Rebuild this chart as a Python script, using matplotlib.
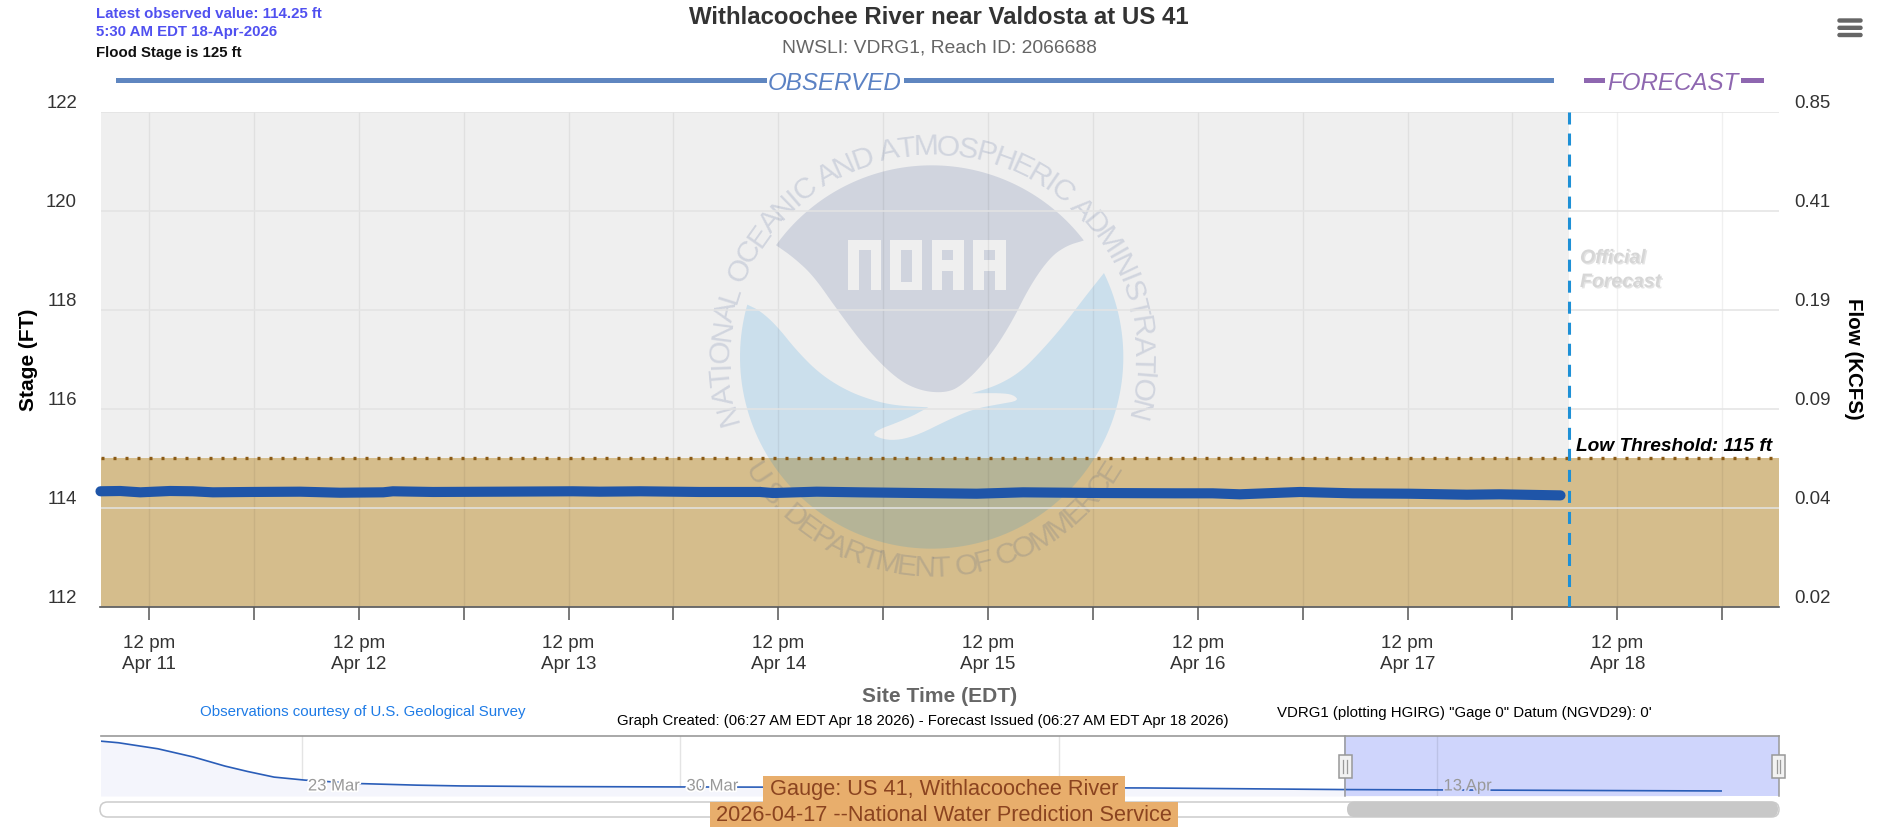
import numpy as np
import matplotlib
matplotlib.use("Agg")
import matplotlib.pyplot as plt
from matplotlib.patches import Polygon, Rectangle, FancyBboxPatch
from matplotlib.textpath import TextPath
from matplotlib.font_manager import FontProperties
from matplotlib.transforms import ScaledTranslation
import matplotlib.patheffects as pe

plt.rcParams['font.family'] = ['Liberation Sans', 'DejaVu Sans']

# ---------- data ----------
obs_hours = [-5.55, -3.3, -1.0, 2.4, 5.0, 7.3, 11.55, 17.3, 21.85, 26.8, 27.9, 32.5, 40.15,
             48.5, 51.6, 56.2, 63.0, 69.9, 71.4, 76.4, 81.3, 87.85, 94.7, 100.0, 108.8,
             117.6, 121.7, 124.8, 131.7, 137.7, 144.2, 150.8, 154.5, 161.5]
obs_stage = [114.333, 114.339, 114.312, 114.339, 114.333, 114.312, 114.319, 114.325, 114.304,
             114.312, 114.333, 114.319, 114.325, 114.333, 114.325, 114.333, 114.319, 114.319,
             114.298, 114.325, 114.312, 114.298, 114.284, 114.312, 114.298, 114.292, 114.292,
             114.272, 114.319, 114.292, 114.284, 114.264, 114.272, 114.25]
forecast_issued_hour = 162.45
x_min_hour, x_max_hour = -5.55, 186.5
stage_ticks = [112, 114, 116, 118, 120, 122]
flow_labels = ['0.02', '0.04', '0.09', '0.19', '0.41', '0.85']
low_threshold = 115
tick_hours = list(range(0, 181, 12))
day_labels = ['Apr 11', 'Apr 12', 'Apr 13', 'Apr 14', 'Apr 15', 'Apr 16', 'Apr 17', 'Apr 18']

nav_days = [-3.72, -3.39, -2.66, -2.0, -1.42, -1.0, -0.51, 0.06, 1.05, 2.13, 2.96, 4.6, 7.08, 15.6, 19.28, 26.25]
nav_stage = [116.73, 116.65, 116.35, 115.94, 115.49, 115.22, 114.94, 114.79, 114.62, 114.54, 114.5, 114.47,
             114.45, 114.4, 114.32, 114.25]
nav_tick_days = [0, 7, 14, 21]
nav_labels = ['23 Mar', '30 Mar', '', '13 Apr']
nav_range = (-3.72, 27.32)
nav_sel = (19.28, 27.32)

W, H = 1887, 828
fig = plt.figure(figsize=(W / 100, H / 100), dpi=100, facecolor='white')

def axes_px(x0, y0, x1, y1, **kw):
    return fig.add_axes([x0 / W, 1 - y1 / H, (x1 - x0) / W, (y1 - y0) / H], **kw)

# overlay in pixel coordinates for page furniture
ov = fig.add_axes([0, 0, 1, 1], zorder=5)
ov.set_xlim(0, W); ov.set_ylim(H, 0); ov.axis('off'); ov.patch.set_alpha(0)

# ---------- main chart ----------
L, R, T, B = 100.5, 1779, 113, 607.7
ax = axes_px(L, T, R, B, zorder=2)
ax.set_xlim(x_min_hour, x_max_hour)
ax.set_ylim(112, 122)
ax.set_facecolor('white')
ax.axvspan(x_min_hour, forecast_issued_hour, color='#EFEFEF', lw=0, zorder=0.5)
ax.axhspan(112, low_threshold, color='#D5BD8C', lw=0, zorder=1)

for s in ['top', 'left', 'right']:
    ax.spines[s].set_visible(False)
ax.spines['bottom'].set_color('#555555'); ax.spines['bottom'].set_linewidth(1.2)

ax.set_xticks(tick_hours)
labels = []
for i, _ in enumerate(tick_hours):
    labels.append('12 pm\n' + day_labels[i // 2] if i % 2 == 0 else '')
ax.set_xticklabels(labels, fontsize=13.6, color='#333333', linespacing=1.27)
ax.tick_params(axis='x', length=9.4, width=1.1, color='#555555', pad=10.5)
ax.set_yticks(stage_ticks)
ax.set_yticklabels([str(v) for v in stage_ticks], fontsize=13.4, color='#333333')
ax.tick_params(axis='y', length=0, pad=17)
ax.grid(axis='y', color='#E3E3E3', lw=1.1, zorder=1.5)
ax.grid(axis='x', color='#000000', alpha=0.06, lw=1.0, zorder=1.5)
ax.set_axisbelow('line')
off = ScaledTranslation(0, 11 / 100, fig.dpi_scale_trans)
for t in ax.get_yticklabels():
    t.set_transform(t.get_transform() + off)

ax2 = ax.twinx()
ax2.set_ylim(112, 122)
ax2.set_yticks(stage_ticks)
ax2.set_yticklabels(flow_labels, fontsize=13.4, color='#333333')
ax2.tick_params(axis='y', length=0, pad=10.8)
for s in ax2.spines.values():
    s.set_visible(False)
for t in ax2.get_yticklabels():
    t.set_transform(t.get_transform() + off)

ax.axhline(low_threshold, color='#8A5A16', lw=2.4, ls=(0, (0.9, 2.7)), zorder=1.8)
ax.plot(obs_hours, obs_stage, color='#1F55A8', lw=7.3, solid_capstyle='round', solid_joinstyle='round',
        zorder=3, clip_on=False)
ax.plot([forecast_issued_hour] * 2, [122, 112], color='#1E90D6', lw=2.2,
        ls=(0, (3.93, 2.95)), dash_capstyle='butt', zorder=3.5)

# ---------- NOAA seal ----------
cx, cy, cr = 755, 684, 575   # in 3x crop units around (680, 130)
def sx(a): return 680 + np.asarray(a, float) / 3
def sy(a): return 130 + np.asarray(a, float) / 3
def chaikin(p, n=3):
    p = np.asarray(p, float)
    for _ in range(n):
        q = [p[0]]
        for a, b in zip(p[:-1], p[1:]):
            q += [0.75 * a + 0.25 * b, 0.25 * a + 0.75 * b]
        q.append(p[-1])
        p = np.array(q)
    return p
def arc(p0, p1, bottom):
    a0 = np.arctan2(p0[1] - cy, p0[0] - cx); a1 = np.arctan2(p1[1] - cy, p1[0] - cx)
    if bottom:       # left point to right point, via the bottom of the circle (y grows down)
        if a0 < 0: a0 += 2 * np.pi
    else:
        if a0 > 0: a0 -= 2 * np.pi
        if a1 > 0: a1 -= 2 * np.pi
    t = np.linspace(a0, a1, 120)
    return np.c_[cx + cr * np.cos(t), cy + cr * np.sin(t)]

dark_low = [(290, 350), (340, 385), (400, 440), (470, 540), (560, 660), (650, 750), (720, 785), (790, 792),
            (840, 775), (920, 695), (990, 590), (1050, 470), (1110, 385), (1160, 350), (1210, 335)]
blue_up = [(1272, 432), (1210, 510), (1150, 590), (1080, 670), (1020, 730), (950, 770), (875, 793)]
bird = [(875, 793), (960, 792), (1000, 797), (1017, 815), (960, 825), (880, 840), (800, 875), (720, 915),
        (660, 933), (610, 932), (568, 912), (680, 870), (745, 835)]
blue_left = [(745, 835), (650, 830), (580, 815), (500, 785), (420, 735), (350, 665), (290, 590), (240, 545), (202, 527)]

dark = np.vstack([chaikin(dark_low), arc((1210, 335), (290, 350), False)])
blue = np.vstack([chaikin(blue_up), chaikin(bird, 2), chaikin(blue_left), arc((202, 527), (1272, 432), True)])
seal_dark = (33 / 255, 60 / 255, 127 / 255, 0.15)
seal_blue = (0, 133 / 255, 220 / 255, 0.15)
for poly, col, z in [(dark, seal_dark, 1.2), (blue, seal_blue, 1.2)]:
    ax.add_patch(Polygon(np.c_[sx(poly[:, 0]), sy(poly[:, 1])], closed=True, fc=col, ec='none',
                         transform=ov.transData, zorder=z, clip_on=False))
def rect(x0, y0, x1, y1, fc, z):
    ax.add_patch(Rectangle((sx(x0), sy(y0)), (x1 - x0) / 3, (y1 - y0) / 3, fc=fc, ec='none',
                           transform=ov.transData, zorder=z, clip_on=False))
dk = '#D0D4DE'
for x0 in [505, 630, 755, 880]:
    rect(x0, 332, x0 + 97, 484, '#EFEFEF', 1.3)
rect(538, 362, 572, 484, dk, 1.35)
rect(662, 362, 695, 458, dk, 1.35)
for x0 in [787, 912]:
    rect(x0, 362, x0 + 33, 392, dk, 1.35)
    rect(x0, 425, x0 + 33, 484, dk, 1.35)

seal_family = ['Liberation Sans Narrow', 'Liberation Sans']
def arc_text(s, t0, t1, bottom):
    fp = FontProperties(family=seal_family)
    base = TextPath((0, 0), 'xx', size=30, prop=fp).get_extents().width
    adv = np.array([TextPath((0, 0), 'x' + ch + 'x', size=30, prop=fp).get_extents().width - base for ch in s])
    cum = np.cumsum(adv) - adv / 2
    fr = cum / adv.sum()
    r = 211
    c0, c1 = 931.7, 358
    for ch, f in zip(s, fr):
        a = np.radians(t0 + (t1 - t0) * f)
        if bottom:
            x, y, rot = c0 + r * np.sin(a), c1 + r * np.cos(a), np.degrees(a)
        else:
            x, y, rot = c0 + r * np.sin(a), c1 - r * np.cos(a), -np.degrees(a)
        ax.text(x, y, ch, transform=ov.transData, fontsize=21.6, family=seal_family, color=seal_dark, rotation=rot,
                rotation_mode='anchor', ha='center', va='center', zorder=1.2, clip_on=False)
arc_text('NATIONAL OCEANIC AND ATMOSPHERIC ADMINISTRATION', -108, 107, False)
arc_text('U.S. DEPARTMENT OF COMMERCE', -59, 60, True)

# ---------- page text ----------
def txt(x, y, s, **kw):
    kw.setdefault('va', 'center'); kw.setdefault('ha', 'left')
    return ov.text(x, y, s, **kw)

txt(96, 14, 'Latest observed value: 114.25 ft', fontsize=10.8, fontweight='bold', color='#5050F0')
txt(96, 32, '5:30 AM EDT 18-Apr-2026', fontsize=10.8, fontweight='bold', color='#5050F0')
txt(96, 53, 'Flood Stage is 125 ft', fontsize=10.8, fontweight='bold', color='#111111')
txt(939, 18, 'Withlacoochee River near Valdosta at US 41', ha='center', fontsize=17.3, fontweight='bold', color='#333333')
txt(939, 48, 'NWSLI: VDRG1, Reach ID: 2066688', ha='center', fontsize=13.85, color='#666666')

for x0, x1, c in [(115.6, 767, '#5F86C0'), (904, 1554, '#5F86C0'), (1584, 1605, '#8E67B0'), (1741, 1764, '#8E67B0')]:
    ov.add_patch(Rectangle((x0, 79.2), x1 - x0, 5, fc=c, ec='none'))
txt(835, 83, 'OBSERVED', ha='center', fontsize=17.4, fontstyle='italic', color='#5B82C4')
txt(1673, 83, 'FORECAST', ha='center', fontsize=17.4, fontstyle='italic', color='#8E67B0')

for y0 in [19, 26.3, 33.5]:
    ov.add_patch(FancyBboxPatch((1838, y0 + 1), 24, 3, boxstyle='round,pad=0,rounding_size=1.5', fc='#666666', ec='#666666', lw=1))

for y0, s in [(258, 'Official'), (282, 'Forecast')]:
    txt(1580, y0 + 1.5, s, fontsize=14, fontweight='bold', fontstyle='italic', color='#D6D6D6',
        path_effects=[pe.withSimplePatchShadow(offset=(1, -1), shadow_rgbFace='#E4E4E4', alpha=1)])
txt(1576, 447, 'Low Threshold: 115 ft', fontsize=13.75, fontweight='bold', fontstyle='italic', color='#000000')

txt(28, 360, 'Stage (FT)', rotation=90, ha='center', fontsize=15, fontweight='bold', color='#000000')
txt(1853, 359, 'Flow (KCFS)', rotation=270, ha='center', fontsize=14.8, fontweight='bold', color='#000000')
txt(940, 697, 'Site Time (EDT)', ha='center', fontsize=15.1, fontweight='bold', color='#666666')
txt(200, 712, 'Observations courtesy of U.S. Geological Survey', fontsize=10.85, color='#1E7BE6')
txt(617, 721, 'Graph Created: (06:27 AM EDT Apr 18 2026) - Forecast Issued (06:27 AM EDT Apr 18 2026)', fontsize=10.76, color='#000000')
txt(1277, 713, 'VDRG1 (plotting HGIRG) "Gage 0" Datum (NGVD29): 0\'', fontsize=10.83, color='#000000')

# ---------- navigator ----------
nt, nb = 736.7, 797
nav = axes_px(L, nt, R, nb, zorder=3)
nav.set_xlim(*nav_range)
nav.set_ylim(114, 117)
nav.set_facecolor('white')
nav.set_xticks(nav_tick_days); nav.set_yticks([])
nav.tick_params(axis='x', length=0, labelbottom=False)
nav.grid(axis='x', color='#E4E4E4', lw=1)
nav.set_axisbelow(True)
for s in ['left', 'right', 'bottom']:
    nav.spines[s].set_visible(False)
nav.spines['top'].set_color('#999999'); nav.spines['top'].set_linewidth(1.2)
nav.fill_between(nav_days, nav_stage, 114, color='#F4F5FC', lw=0, zorder=1)
nav.axvspan(nav_sel[0], nav_sel[1], color='#CFD5FC', lw=0, zorder=1.2)
nav.axvline(nav_tick_days[3], color='#BCC2E6', lw=1, zorder=1.3)
nav.plot(nav_days, nav_stage, color='#2A5DB8', lw=1.2, zorder=2)
for d, s in zip(nav_tick_days, nav_labels):
    if s:
        halo = '#CFD5FC' if d > nav_sel[0] else 'white'
        nav.annotate(s, (d, 0), xycoords=('data', 'axes fraction'), xytext=(4.5, 7.2), textcoords='offset points',
                     fontsize=12, color='#999999', va='center', zorder=3,
                     path_effects=[pe.withStroke(linewidth=2.5, foreground=halo)])
for sel in [1345, 1778.5]:
    ov.plot([sel, sel], [nt, nb], color='#999999', lw=1.1, zorder=1)
    ov.add_patch(Rectangle((sel - 6.5, 756), 13, 23, fc='#F2F2F2', ec='#999999', lw=1.1, zorder=2))
    for dx in [-1.6, 1.6]:
        ov.plot([sel + dx, sel + dx], [761, 774], color='#999999', lw=0.9, zorder=3)

ov.add_patch(FancyBboxPatch((100, 803), 1679, 15, boxstyle='round,pad=0,rounding_size=7.5', fc='white', ec='#CCCCCC', lw=1.1, zorder=0.5))
ov.add_patch(FancyBboxPatch((1347, 802.5), 431, 15.5, boxstyle='round,pad=0,rounding_size=7.5', fc='#C8C8C8', ec='none', zorder=0.6))

# ---------- orange caption ----------
for x0, x1, y0, y1, s in [(762.5, 1125, 777, 803, 'Gauge: US 41, Withlacoochee River'),
                          (710, 1177.7, 803, 828, '2026-04-17 --National Water Prediction Service')]:
    ov.add_patch(Rectangle((x0, y0), x1 - x0, y1 - y0, fc='#E8AE6C', ec='none', zorder=6))
    ov.text((x0 + x1) / 2, (y0 + y1) / 2, s, ha='center', va='center', fontsize=15.7, color='#8B4420', zorder=7)

fig.savefig('out.png', dpi=100)
